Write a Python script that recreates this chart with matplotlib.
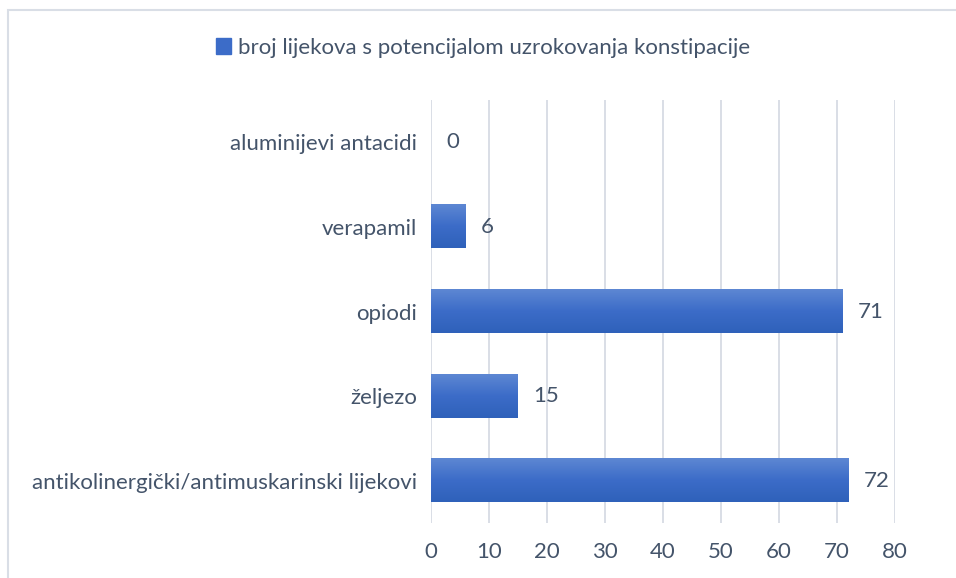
import matplotlib
matplotlib.use('Agg')
import matplotlib.pyplot as plt
from matplotlib.patches import Rectangle
from matplotlib.colors import LinearSegmentedColormap
import numpy as np

# podaci (odozdo prema gore)
kategorije = ['antikolinergički/antimuskarinski lijekovi', 'željezo', 'opiodi',
              'verapamil', 'aluminijevi antacidi']
vrijednosti = [72, 15, 71, 6, 0]
oznake_x = [0, 10, 20, 30, 40, 50, 60, 70, 80]
legenda = 'broj lijekova s potencijalom uzrokovanja konstipacije'

plt.rcParams['font.family'] = ['Lato', 'DejaVu Sans']
tekst = '#44546a'
mreza = '#d9dee6'
fs = 16

fig = plt.figure(figsize=(9.56, 5.78), dpi=100)
ax = fig.add_axes([431/956, 1 - 523/578, 464/956, 423/578])

# gradijent za stupce
cmap = LinearSegmentedColormap.from_list('plava', ['#2f61ba', '#3c6cc8', '#5d87d3'])
grad = np.linspace(0, 1, 64).reshape(-1, 1)

y = np.arange(len(kategorije))
visina = 0.51
bars = ax.barh(y, vrijednosti, height=visina, color='#3c6cc8', zorder=2)
for b, v in zip(bars, vrijednosti):
    if v <= 0:
        continue
    x0, y0 = b.get_x(), b.get_y()
    ax.imshow(grad, extent=(x0, x0 + b.get_width(), y0, y0 + b.get_height()),
              cmap=cmap, aspect='auto', origin='lower', zorder=3)
    b.set_alpha(0)

for yi, v in zip(y, vrijednosti):
    ax.annotate(str(v), (v, yi), xytext=(11, 0), textcoords='offset points',
                va='center', ha='left', fontsize=fs, color=tekst)

ax.set_xlim(0, 80)
ax.set_ylim(-0.5, len(kategorije) - 0.5)
ax.set_xticks(oznake_x)
ax.set_yticks(y)
ax.set_yticklabels(kategorije)
ax.tick_params(axis='both', length=0, labelsize=fs, colors=tekst)
ax.tick_params(axis='x', pad=14)
ax.tick_params(axis='y', pad=10)
ax.xaxis.grid(True, color=mreza, linewidth=1.4, zorder=0)
ax.set_axisbelow(True)
for s in ax.spines.values():
    s.set_visible(False)

# legenda na vrhu
fig.legend([Rectangle((0, 0), 1, 1, color='#3c6cc8')], [legenda],
           loc='center', bbox_to_anchor=(483/956, 1 - 48/578), frameon=False,
           fontsize=fs, labelcolor=tekst, handlelength=0.7, handleheight=0.7,
           handletextpad=0.3)

# okvir grafikona
fig.add_artist(Rectangle((8/956, -0.1), 2, 1.1 - 10/578,
                         transform=fig.transFigure, fill=False,
                         edgecolor=mreza, linewidth=1.5))

fig.savefig('out.png', dpi=100)
